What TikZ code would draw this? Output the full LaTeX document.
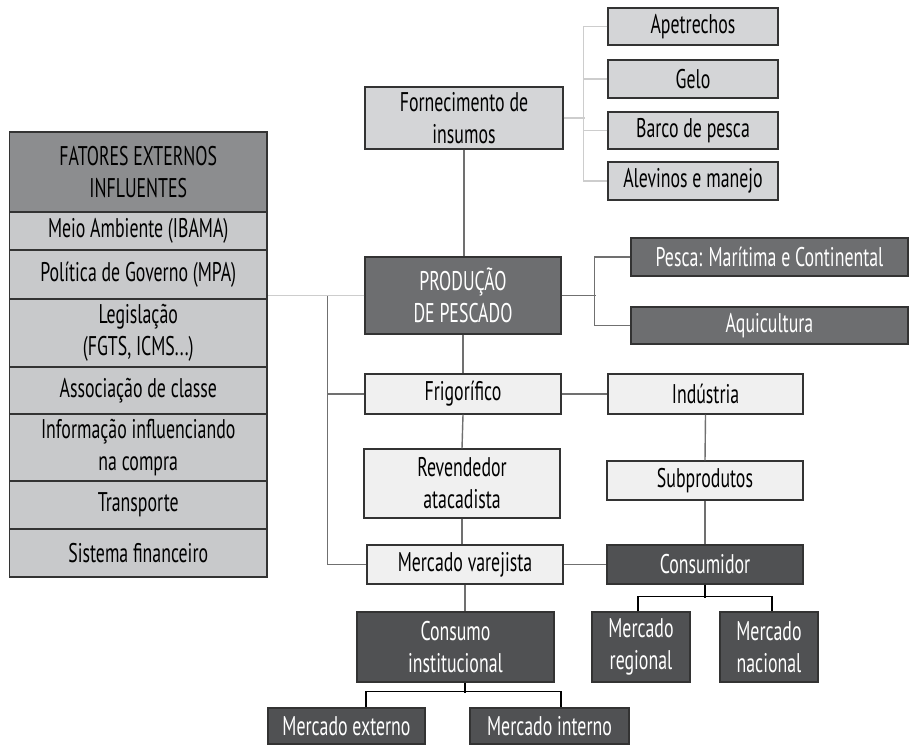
\documentclass[tikz,border=0pt]{standalone}
\usepackage{fontspec}
\setmainfont{PT Sans}[FakeStretch=0.66]
\usepackage{xcolor}
\newcommand{\BoxFont}{\fontsize{27}{32}\selectfont}
\newcommand{\TabX}{138.25}
\newcommand{\TabW}{257.5pt}
\colorlet{BoxLine}{black!80}
\definecolor{HeadFill}{RGB}{140,141,143}
\definecolor{RowFill}{RGB}{200,201,203}
\definecolor{LightFill}{RGB}{212,213,215}
\definecolor{MidFill}{RGB}{109,110,112}
\definecolor{PaleFill}{RGB}{240,240,240}
\definecolor{DarkFill}{RGB}{80,81,83}
\definecolor{LinkColor}{RGB}{112,112,112}
\definecolor{FaintColor}{RGB}{205,205,205}

\begin{document}
\begin{tikzpicture}[x=1pt,y=-1pt,
  box/.style={draw=BoxLine,line width=1.1pt,inner sep=0pt,align=center,font=\BoxFont},
  tabrow/.style={box,fill=RowFill,minimum width=\TabW},
  lightbox/.style={box,fill=LightFill},
  palebox/.style={box,fill=PaleFill},
  midbox/.style={box,fill=MidFill,text=white},
  darkbox/.style={box,fill=DarkFill,text=white},
  linkline/.style={draw=LinkColor,line width=1.4pt},
  faintline/.style={draw=FaintColor,line width=1.4pt},
  treeline/.style={draw=black,line width=1.6pt}
]
\useasboundingbox (0,0) rectangle (909,745);

% External factors table
\node[tabrow,fill=HeadFill,minimum height=80pt] (fat0) at (\TabX,172) {FATORES EXTERNOS\\INFLUENTES};
\foreach \yt/\yb/\txt [count=\k] in {
  212/250/{Meio Ambiente (IBAMA)},
  250/299/{Política de Governo (MPA)},
  299/367/{Legislação\\(FGTS, ICMS...)},
  367/414/{Associação de classe},
  414/481/{Informação influenciando\\na compra},
  481/529/{Transporte},
  529/577/{Sistema financeiro}}{%
  \pgfmathsetmacro{\hh}{\yb-\yt}
  \pgfmathsetmacro{\yc}{(\yt+\yb)/2}
  \node[tabrow,minimum height=\hh pt] (fat\k) at (\TabX,\yc) {\txt};
}

% Inputs
\node[lightbox,minimum width=198pt,minimum height=62pt] (forn) at (464,118) {Fornecimento de\\insumos};
\node[lightbox,minimum width=170pt,minimum height=37pt] (ape) at (693,26.5) {Apetrechos};
\node[lightbox,minimum width=170pt,minimum height=38pt] (gelo) at (693,79) {Gelo};
\node[lightbox,minimum width=170pt,minimum height=37pt] (barco) at (693,130.5) {Barco de pesca};
\node[lightbox,minimum width=170pt,minimum height=38pt] (alev) at (693,181) {Alevinos e manejo};

% Production
\node[midbox,minimum width=196pt,minimum height=77pt] (prod) at (463,295.5) {PRODUÇÃO\\DE PESCADO};
\node[midbox,minimum width=277pt,minimum height=38pt] (pesca) at (769.5,257) {Pesca: Marítima e Continental};
\node[midbox,minimum width=277pt,minimum height=37pt] (aqui) at (769.5,325.5) {Aquicultura};

% Distribution
\node[palebox,minimum width=196pt,minimum height=40pt] (frigo) at (463,394) {Frigorífico};
\node[palebox,minimum width=195pt,minimum height=40pt] (ind) at (705.5,394) {Indústria};
\node[palebox,minimum width=196pt,minimum height=69pt] (rev) at (462,483.5) {Revendedor\\atacadista};
\node[palebox,minimum width=196pt,minimum height=39pt] (sub) at (705,480.5) {Subprodutos};
\node[palebox,minimum width=196pt,minimum height=39pt] (merv) at (465,564.5) {Mercado varejista};
\node[darkbox,minimum width=196pt,minimum height=39pt] (cons) at (705,564.5) {Consumidor};

% Consumption
\node[darkbox,minimum width=197pt,minimum height=70pt] (consi) at (455.5,647) {Consumo\\institucional};
\node[darkbox,minimum width=98pt,minimum height=70pt] (mreg) at (641,647) {Mercado\\regional};
\node[darkbox,minimum width=98pt,minimum height=70pt] (mnac) at (769,647) {Mercado\\nacional};
\node[darkbox,minimum width=157pt,minimum height=36pt] (mext) at (346.5,726) {Mercado externo};
\node[darkbox,minimum width=159pt,minimum height=36pt] (mint) at (549.5,726) {Mercado interno};

% Connections
\begin{scope}[on background layer/.try]
\draw[faintline] (forn.east) -- ++(21,0);
\draw[faintline] (ape.west) -- ++(-24,0) |- (alev.west);
\draw[faintline] (gelo.west) -- ++(-24,0);
\draw[faintline] (barco.west) -- ++(-24,0);
\draw[faintline] (prod.west) -- (prod.west -| fat0.east);
\draw[linkline] (merv.west) -- ++(-39,0) coordinate (vbot) -- (vbot |- prod.west);
\draw[linkline] (frigo.west) -- (frigo.west -| vbot);
\draw[linkline] (forn.south) -- (forn.south |- prod.north);
\draw[linkline] (prod.east) -- ++(34,0);
\draw[linkline] (pesca.west) -- ++(-36,0) |- (aqui.west);
\draw[linkline] (prod.south) -- (frigo.north);
\draw[linkline] (frigo.east) -- (ind.west);
\draw[linkline] (frigo.south) -- (rev.north);
\draw[linkline] (rev.south) -- (rev.south |- merv.north);
\draw[linkline] (ind.south) -- (sub.north);
\draw[linkline] (sub.south) -- (cons.north);
\draw[linkline] (merv.east) -- (cons.west);
\draw[linkline] (merv.south) -- (merv.south |- consi.north);
\draw[treeline] (cons.south) -- ++(0,13);
\draw[treeline] ([xshift=-3pt]mreg.north) -- ++(0,-15) -| ([xshift=3pt]mnac.north);
\draw[treeline] (merv.south |- consi.south) -- ++(0,10);
\draw[treeline] ([xshift=19.5pt]mext.north) -- ++(0,-16) -| ([xshift=11.5pt]mint.north);
\end{scope}
\end{tikzpicture}
\end{document}
